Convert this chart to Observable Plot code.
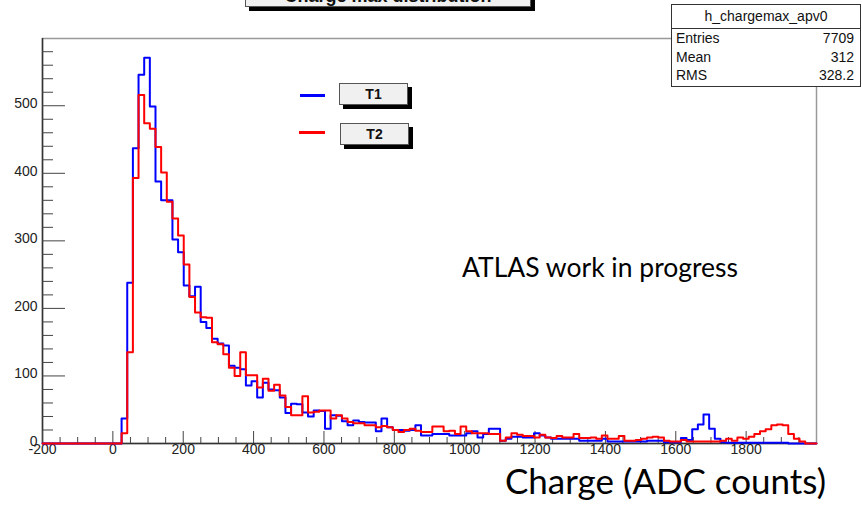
<!DOCTYPE html>
<html>
<head>
<meta charset="utf-8">
<script src="https://cdn.jsdelivr.net/npm/d3@7"></script>
<script src="https://cdn.jsdelivr.net/npm/@observablehq/plot@0.6"></script>
<style>
  html, body { margin: 0; padding: 0; background: #fff; overflow: hidden; }
  #wrap { position: relative; width: 862px; height: 505px; overflow: hidden;
          font-family: "Liberation Sans", Arial, Helvetica, sans-serif; color: #111; }
  #wrap svg { display: block; }
  .pave { position: absolute; box-sizing: border-box; background: #f0f0f0;
          border: 1px solid #555; box-shadow: 4px 4px 0 #000; }
  .pave span { position: absolute; left: 0; right: 0; text-align: center; font-weight: bold; }
  .swatch { position: absolute; height: 3px; }
  #stats { position: absolute; left: 671px; top: 4px; width: 190px; height: 83px;
           box-sizing: border-box; background: #fff; border: 1px solid #333; font-size: 14px; }
  #stats .head { height: 23px; line-height: 22px; text-align: center; border-bottom: 1px solid #333; }
  #stats .row { display: flex; justify-content: space-between; padding: 0 6px 0 4px;
                height: 18.5px; line-height: 18.5px; }
  #overlay { position: absolute; left: 0; top: 0; pointer-events: none; }
</style>
</head>
<body>
<div id="wrap"></div>
<script>
// Histogram binning: 137 equal bins between -200 and 2000 ADC counts
const binLow = -200;
const binHigh = 2000;
const binCount = 137;

// T1 (blue) bin contents
const t1Counts = [
  0,0,0,0,0,0,0,0,0,0,0,0,0,0,
  37,238,437,546,571,499,388,360,360,302,283,234,
  218,232,180,171,155,148,145,115,112,110,
  86,92,68,90,80,79,68,45,59,58,46,40,49,48,22,
  42,41,33,27,34,32,31,31,18,37,24,
  20,20,19,20,27,12,12,14,14,14,12,12,12,15,18,9,14,22,22,
  4,7,10,10,9,9,15,12,9,7,7,7,7,7,4,4,4,4,
  7,3,3,3,3,3,3,3,4,4,4,2,2,2,
  8,5,21,28,43,22,7,
  2,
  1,1,1,1,1,1,1,1,1,1,1,
  0,0,0,0,0
];

// T2 (red) bin contents
const t2Counts = [
  0,0,0,0,0,0,0,0,0,0,0,0,0,0,
  15,135,393,516,474,466,439,401,358,333,308,265,
  217,194,187,186,150,147,132,112,100,135,
  101,101,83,96,78,87,71,54,42,42,70,46,47,49,49,
  37,42,37,32,30,30,27,27,24,26,24,
  20,17,20,22,19,17,17,25,25,18,19,14,25,18,15,15,15,14,14,
  4,9,15,13,11,11,9,13,9,8,11,9,9,14,8,8,9,7,
  12,7,7,11,4,4,5,7,9,10,9,4,3,3,
  5,3,3,3,3,3,3,
  4,7,4,9,7,10,14,18,21,27,28,27,
  14,7,3,0,0
];

// Axis ticks
const xMajorTicks = [-200, 0, 200, 400, 600, 800, 1000, 1200, 1400, 1600, 1800];
const xMinorTicks = d3.range(-150, 2000, 50).filter(v => v % 200 !== 0);
const yMajorTicks = [0, 100, 200, 300, 400, 500];
const yMinorTicks = d3.range(20, 600, 20).filter(v => v % 100 !== 0);

// Statistics box entries
const statsTitle = "h_chargemax_apv0";
const statsLabels = ["Entries", "Mean", "RMS"];
const statsValues = ["7709", "312", "328.2"];

const seriesNames = ["T1", "T2"];
const seriesColors = ["#0000ff", "#ff0000"];

// Step outline points: one per bin low edge, plus the closing upper edge
const binWidth = (binHigh - binLow) / binCount;
function outline(counts) {
  const pts = counts.map((c, i) => ({x: binLow + i * binWidth, y: c}));
  pts.push({x: binHigh, y: counts[counts.length - 1]});
  return pts;
}

const yMax = 1.05 * d3.max([...t1Counts, ...t2Counts]);
const tickColor = "#444";
const plainNumber = d => String(d);

const chart = Plot.plot({
  width: 862,
  height: 505,
  marginLeft: 42,
  marginRight: 46,
  marginTop: 38,
  marginBottom: 62,
  x: {domain: [binLow, binHigh]},
  y: {domain: [0, yMax]},
  style: {background: "#fff", color: "#222", fontFamily: "'Liberation Sans', Arial, Helvetica, sans-serif"},
  marks: [
    Plot.frame({stroke: "#999", strokeWidth: 1.5}),
    Plot.ruleX([binLow], {stroke: "#333", strokeWidth: 1.5}),
    Plot.ruleY([0], {stroke: "#333", strokeWidth: 1.5}),
    Plot.axisX({ticks: xMajorTicks, tickSize: -12, tickFormat: () => "", label: null, stroke: tickColor}),
    Plot.axisX({ticks: xMinorTicks, tickSize: -6, tickFormat: () => "", label: null, stroke: tickColor}),
    Plot.axisX({ticks: xMajorTicks, tickSize: 0, tickPadding: 1, tickFormat: plainNumber, label: null, fontSize: 14, fill: "#222"}),
    Plot.axisY({ticks: yMajorTicks, tickSize: -23, tickFormat: () => "", label: null, stroke: tickColor}),
    Plot.axisY({ticks: yMinorTicks, tickSize: -11, tickFormat: () => "", label: null, stroke: tickColor}),
    Plot.axisY({ticks: yMajorTicks, tickSize: 0, tickPadding: 5, tickFormat: plainNumber, label: null, fontSize: 14, fill: "#222", dy: -2}),
    Plot.line(outline(t1Counts), {x: "x", y: "y", curve: "step-after", stroke: seriesColors[0], strokeWidth: 2}),
    Plot.line(outline(t2Counts), {x: "x", y: "y", curve: "step-after", stroke: seriesColors[1], strokeWidth: 2})
  ]
});

const wrap = document.getElementById("wrap");
wrap.appendChild(chart);

// Histogram title pave (sits partly above the page edge)
const title = document.createElement("div");
title.className = "pave";
Object.assign(title.style, {left: "245px", top: "-20px", width: "286px", height: "27px"});
title.innerHTML = '<span style="top:5px;font-size:18px;line-height:20px;">Charge max distribution</span>';
wrap.appendChild(title);

// Legend: line swatch + labelled pave for each series
const legendRows = [
  {swLeft: 300, swTop: 94, swWidth: 25, boxLeft: 339, boxTop: 83},
  {swLeft: 299, swTop: 131, swWidth: 26, boxLeft: 340, boxTop: 123}
];
legendRows.forEach((r, i) => {
  const sw = document.createElement("div");
  sw.className = "swatch";
  Object.assign(sw.style, {left: r.swLeft + "px", top: r.swTop + "px", width: r.swWidth + "px", background: seriesColors[i]});
  wrap.appendChild(sw);
  const box = document.createElement("div");
  box.className = "pave";
  Object.assign(box.style, {left: r.boxLeft + "px", top: r.boxTop + "px", width: "69px", height: "22px"});
  box.innerHTML = `<span style="top:2px;font-size:14px;line-height:17px;">${seriesNames[i]}</span>`;
  wrap.appendChild(box);
});

// Statistics box
const stats = document.createElement("div");
stats.id = "stats";
stats.innerHTML = `<div class="head">${statsTitle}</div>` +
  statsLabels.map((l, i) => `<div class="row"><span>${l}</span><span>${statsValues[i]}</span></div>`).join("");
wrap.appendChild(stats);

// Free-standing annotations
const overlay = d3.select(wrap).append("svg")
  .attr("id", "overlay").attr("width", 862).attr("height", 505);
overlay.append("text")
  .attr("x", 462).attr("y", 277)
  .attr("font-family", "Lato, 'Open Sans', sans-serif").attr("font-size", 26)
  .attr("textLength", 276).attr("lengthAdjust", "spacingAndGlyphs")
  .attr("fill", "#000")
  .text("ATLAS work in progress");
overlay.append("text")
  .attr("x", 505).attr("y", 494)
  .attr("font-family", "Lato, 'Open Sans', sans-serif").attr("font-size", 34)
  .attr("textLength", 321).attr("lengthAdjust", "spacingAndGlyphs")
  .attr("fill", "#000")
  .text("Charge (ADC counts)");
</script>
</body>
</html>
